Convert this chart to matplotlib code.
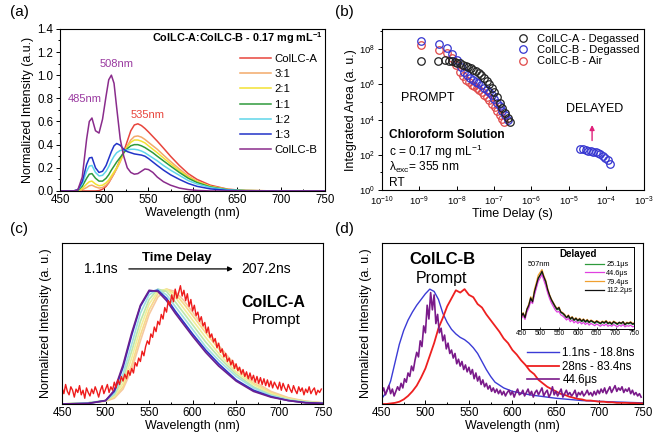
import numpy as np
import matplotlib
matplotlib.use("Agg")
import matplotlib.pyplot as plt
from matplotlib.ticker import LogLocator, NullFormatter, MultipleLocator, NullLocator

plt.rcParams["font.family"] = ["Liberation Sans", "DejaVu Sans"]
plt.rcParams["mathtext.fontset"] = "custom"
plt.rcParams["mathtext.rm"] = "Liberation Sans"
plt.rcParams["mathtext.it"] = "Liberation Sans:italic"
plt.rcParams["mathtext.bf"] = "Liberation Sans:bold"

# ---------------- panel (a): steady-state spectra of the mixtures
wl_a = [450, 465, 470, 475, 480, 483, 486, 490, 494, 498, 502, 505, 508, 511, 514, 518,
        522, 526, 530, 534, 538, 542, 546, 550, 555, 560, 567, 575, 585, 595, 605, 620,
        640, 660, 700, 750]
mix_labels = ["ColLC-A", "3:1", "2:1", "1:1", "1:2", "1:3", "ColLC-B"]
mix_colors = ["#e8453c", "#f3a96a", "#f2e233", "#2f9a3c", "#5fd6ea", "#2233c8", "#8a2c8c"]
spec_A = [0, 0, 0, 0, 0, 0, 0, 0, 0.003, 0.015, 0.04, 0.07, 0.11, 0.15, 0.20, 0.27,
          0.34, 0.43, 0.52, 0.57, 0.58, 0.565, 0.54, 0.51, 0.47, 0.43, 0.37, 0.30, 0.22,
          0.15, 0.10, 0.05, 0.015, 0.004, 0, 0]
spec_31 = [0, 0, 0, 0.01, 0.03, 0.045, 0.05, 0.035, 0.025, 0.03, 0.05, 0.075, 0.11,
           0.15, 0.19, 0.25, 0.33, 0.39, 0.44, 0.47, 0.475, 0.465, 0.445, 0.42, 0.39,
           0.36, 0.31, 0.255, 0.19, 0.13, 0.085, 0.04, 0.013, 0.004, 0, 0]
spec_21 = [0, 0, 0, 0.02, 0.06, 0.08, 0.085, 0.06, 0.045, 0.05, 0.07, 0.095, 0.13,
           0.165, 0.20, 0.26, 0.33, 0.38, 0.42, 0.44, 0.44, 0.43, 0.415, 0.39, 0.36,
           0.33, 0.285, 0.235, 0.175, 0.12, 0.08, 0.04, 0.012, 0.004, 0, 0]
spec_11 = [0, 0, 0.005, 0.04, 0.11, 0.145, 0.15, 0.11, 0.085, 0.085, 0.11, 0.14, 0.18,
           0.215, 0.25, 0.29, 0.33, 0.365, 0.39, 0.40, 0.40, 0.39, 0.375, 0.355, 0.33,
           0.30, 0.26, 0.215, 0.16, 0.11, 0.073, 0.035, 0.011, 0.003, 0, 0]
spec_12 = [0, 0, 0.01, 0.06, 0.17, 0.215, 0.22, 0.16, 0.13, 0.135, 0.17, 0.21, 0.26,
           0.30, 0.33, 0.35, 0.35, 0.355, 0.36, 0.36, 0.355, 0.345, 0.33, 0.31, 0.285,
           0.26, 0.22, 0.18, 0.135, 0.09, 0.06, 0.03, 0.009, 0.003, 0, 0]
spec_13 = [0, 0, 0.01, 0.08, 0.23, 0.285, 0.29, 0.20, 0.16, 0.17, 0.22, 0.28, 0.34,
           0.39, 0.41, 0.395, 0.36, 0.34, 0.33, 0.32, 0.315, 0.31, 0.30, 0.28, 0.25,
           0.22, 0.18, 0.14, 0.10, 0.065, 0.04, 0.018, 0.005, 0.001, 0, 0]
spec_B = [0, 0, 0.01, 0.12, 0.45, 0.60, 0.63, 0.52, 0.50, 0.62, 0.82, 0.96, 1.0, 0.93,
          0.72, 0.45, 0.30, 0.20, 0.16, 0.145, 0.15, 0.17, 0.19, 0.185, 0.16, 0.12, 0.08,
          0.05, 0.025, 0.012, 0.005, 0, 0, 0, 0, 0]
mix_specs = [spec_A, spec_31, spec_21, spec_11, spec_12, spec_13, spec_B]

# ---------------- panel (b): integrated area vs time delay
t_A_deg = [1.1e-9, 3.1e-9, 5.0e-9, 6.2e-9, 7.4e-9, 8.8e-9, 1.05e-8, 1.25e-8, 1.5e-8,
           1.75e-8, 2.05e-8, 2.4e-8, 2.8e-8, 3.3e-8, 3.9e-8, 4.6e-8, 5.4e-8, 6.3e-8,
           7.4e-8, 8.7e-8, 1.02e-7, 1.2e-7, 1.4e-7, 1.65e-7, 1.95e-7, 2.3e-7, 2.7e-7]
I_A_deg = [2.2e7, 2.2e7, 2.3e7, 2.2e7, 2.1e7, 1.9e7, 1.7e7, 1.5e7, 1.3e7, 1.1e7, 9.5e6,
           8e6, 6.5e6, 5.3e6, 4.2e6, 3.3e6, 2.4e6, 1.6e6, 1.0e6, 6e5, 3.5e5, 1.8e5, 9e4,
           4.5e4, 2.3e4, 1.2e4, 7.5e3]
t_B_deg = [1.1e-9, 3.3e-9, 5.5e-9, 7.5e-9, 1.05e-8, 1.3e-8, 1.6e-8, 1.9e-8, 2.3e-8,
           2.7e-8, 3.2e-8, 3.8e-8, 4.5e-8, 5.3e-8, 6.3e-8, 7.4e-8, 8.7e-8, 1.02e-7,
           1.2e-7, 1.4e-7, 1.65e-7, 1.95e-7, 2.3e-7,
           2.0e-5, 2.4e-5, 2.8e-5, 3.3e-5, 3.9e-5, 4.5e-5, 5.2e-5, 6.0e-5, 7.0e-5,
           8.2e-5, 9.5e-5, 1.1e-4, 1.3e-4]
I_B_deg = [2.8e8, 1.8e8, 1.1e8, 5e7, 2.5e7, 1.0e7, 5e6, 3.2e6, 2.3e6, 1.8e6, 1.4e6,
           1.1e6, 8.5e5, 6.5e5, 4.8e5, 3.4e5, 2.3e5, 1.5e5, 9e4, 5.5e4, 3.2e4, 1.8e4,
           1.0e4,
           220, 200, 185, 170, 160, 150, 140, 125, 110, 90, 70, 50, 30]
t_B_air = [1.1e-9, 3.3e-9, 5.5e-9, 7.5e-9, 9.5e-9, 1.2e-8, 1.5e-8, 1.8e-8, 2.1e-8,
           2.5e-8, 2.9e-8, 3.4e-8, 4.0e-8, 4.7e-8, 5.5e-8, 6.4e-8, 7.5e-8, 8.8e-8,
           1.03e-7, 1.2e-7, 1.4e-7, 1.65e-7, 1.9e-7]
I_B_air = [1.6e8, 9e7, 6e7, 3e7, 1.2e7, 5e6, 2.8e6, 1.8e6, 1.3e6, 9.5e5, 7.5e5, 5.8e5,
           4.5e5, 3.4e5, 2.5e5, 1.8e5, 1.2e5, 8e4, 5e4, 3e4, 1.8e4, 1.1e4, 7e3]

# ---------------- panel (c): ColLC-A prompt spectra, 1.1 ns -> 207.2 ns
wl_c = [450, 480, 500, 510, 520, 530, 540, 550, 560, 570, 580, 590, 600, 615, 630, 650,
        670, 690, 710, 730, 750]
c_colors = ["#f6c9a0", "#f7d98a", "#f1ee9a", "#bfe7a8", "#9fe0e0", "#2b35c8", "#6a1f8f"]
c_specs = [
    [0, 0.01, 0.025, 0.05, 0.13, 0.30, 0.55, 0.78, 0.93, 1.0, 0.98, 0.90, 0.80, 0.65,
     0.51, 0.33, 0.20, 0.11, 0.055, 0.025, 0.01],
    [0, 0.01, 0.025, 0.06, 0.15, 0.34, 0.60, 0.82, 0.96, 1.0, 0.96, 0.87, 0.77, 0.62,
     0.48, 0.31, 0.18, 0.10, 0.05, 0.022, 0.01],
    [0, 0.01, 0.03, 0.07, 0.18, 0.40, 0.66, 0.87, 0.98, 1.0, 0.93, 0.83, 0.73, 0.58,
     0.44, 0.28, 0.17, 0.09, 0.045, 0.02, 0.008],
    [0, 0.01, 0.03, 0.08, 0.22, 0.46, 0.72, 0.91, 1.0, 0.98, 0.89, 0.79, 0.69, 0.54,
     0.41, 0.26, 0.15, 0.08, 0.04, 0.017, 0.007],
    [0, 0.01, 0.03, 0.09, 0.26, 0.52, 0.79, 0.95, 1.0, 0.95, 0.85, 0.75, 0.65, 0.50,
     0.38, 0.24, 0.14, 0.075, 0.035, 0.015, 0.006],
    [0, 0.005, 0.03, 0.11, 0.32, 0.60, 0.85, 0.98, 0.99, 0.92, 0.81, 0.71, 0.61, 0.47,
     0.35, 0.21, 0.12, 0.065, 0.03, 0.012, 0.005],
    [0, 0.005, 0.03, 0.12, 0.34, 0.62, 0.86, 0.99, 0.98, 0.90, 0.79, 0.69, 0.59, 0.45,
     0.33, 0.20, 0.11, 0.06, 0.03, 0.01, 0.005],
]
wl_noisy = np.arange(450, 750, 2)
c_late = [0.14, 0.09, 0.17, 0.11, 0.08, 0.15, 0.12, 0.06, 0.13, 0.10,
          0.16, 0.08, 0.12, 0.05, 0.14, 0.10, 0.07, 0.13, 0.09, 0.15,
          0.11, 0.06, 0.12, 0.16, 0.09, 0.13, 0.17, 0.10, 0.15, 0.12,
          0.19, 0.14, 0.21, 0.17, 0.24, 0.20, 0.26, 0.22, 0.29, 0.25,
          0.31, 0.27, 0.36, 0.33, 0.40, 0.37, 0.46, 0.42, 0.50, 0.55,
          0.52, 0.61, 0.58, 0.67, 0.63, 0.72, 0.69, 0.78, 0.74, 0.84,
          0.80, 0.90, 0.86, 0.95, 0.89, 1.00, 0.92, 0.97, 1.03, 0.94,
          0.99, 0.90, 0.96, 0.85, 0.91, 0.81, 0.86, 0.77, 0.80, 0.72,
          0.76, 0.68, 0.71, 0.62, 0.67, 0.58, 0.61, 0.54, 0.57, 0.49,
          0.53, 0.45, 0.48, 0.41, 0.44, 0.37, 0.40, 0.34, 0.38, 0.31,
          0.35, 0.29, 0.32, 0.26, 0.30, 0.24, 0.28, 0.22, 0.27, 0.21,
          0.25, 0.19, 0.24, 0.18, 0.23, 0.17, 0.22, 0.16, 0.21, 0.15,
          0.20, 0.14, 0.19, 0.16, 0.13, 0.19, 0.12, 0.18, 0.14, 0.11,
          0.17, 0.13, 0.10, 0.16, 0.12, 0.09, 0.15, 0.11, 0.14, 0.08,
          0.13, 0.10, 0.15, 0.09, 0.12, 0.14, 0.08, 0.12, 0.10, 0.13]

# ---------------- panel (d): ColLC-B prompt / delayed spectra
wl_d_blue = [450, 455, 460, 465, 470, 475, 480, 485, 490, 495, 500, 505, 510, 515, 520,
             525, 530, 535, 540, 545, 550, 555, 560, 565, 570, 575, 580, 590, 600, 620,
             650, 680, 710, 750]
d_blue = [0.05, 0.10, 0.20, 0.36, 0.52, 0.64, 0.73, 0.80, 0.86, 0.91, 0.96, 1.0, 0.98,
          0.91, 0.79, 0.71, 0.65, 0.61, 0.58, 0.56, 0.53, 0.49, 0.44, 0.37, 0.30, 0.24,
          0.19, 0.14, 0.11, 0.08, 0.05, 0.03, 0.02, 0.01]
wl_d_red = np.arange(450, 755, 5)
d_red = [0.0, 0.0, 0.005, 0.01, 0.02, 0.04, 0.07, 0.11, 0.16, 0.23, 0.31, 0.42, 0.53,
         0.66, 0.75, 0.85, 0.92, 0.99, 0.97, 1.0, 0.95, 0.93, 0.87, 0.84, 0.78, 0.73,
         0.68, 0.63, 0.57, 0.53, 0.47, 0.43, 0.38, 0.34, 0.29, 0.26, 0.21, 0.18, 0.15,
         0.13, 0.11, 0.09, 0.08, 0.065, 0.055, 0.045, 0.04, 0.03, 0.03, 0.025, 0.02,
         0.02, 0.015, 0.015, 0.01, 0.01, 0.01, 0.008, 0.008, 0.006, 0.005]
d_delayed = [0.10, 0.14, 0.08, 0.12, 0.16, 0.09, 0.13, 0.07, 0.11, 0.15,
             0.12, 0.18, 0.14, 0.22, 0.19, 0.27, 0.24, 0.33, 0.29, 0.38,
             0.45, 0.41, 0.55, 0.50, 0.68, 0.62, 0.86, 0.74, 0.97, 0.82,
             0.95, 0.70, 0.78, 0.62, 0.66, 0.55, 0.60, 0.48, 0.53, 0.44,
             0.47, 0.40, 0.44, 0.35, 0.39, 0.33, 0.37, 0.30, 0.34, 0.28,
             0.32, 0.26, 0.30, 0.22, 0.27, 0.20, 0.24, 0.17, 0.21, 0.15,
             0.18, 0.13, 0.16, 0.11, 0.14, 0.10, 0.13, 0.09, 0.12, 0.08,
             0.11, 0.07, 0.10, 0.12, 0.08, 0.11, 0.06, 0.10, 0.13, 0.08,
             0.09, 0.12, 0.07, 0.10, 0.13, 0.08, 0.11, 0.06, 0.10, 0.12,
             0.08, 0.11, 0.14, 0.07, 0.10, 0.12, 0.06, 0.09, 0.15, 0.08,
             0.11, 0.07, 0.10, 0.13, 0.06, 0.09, 0.12, 0.08, 0.10, 0.07,
             0.09, 0.12, 0.06, 0.10, 0.08, 0.11, 0.07, 0.09, 0.12, 0.08,
             0.10, 0.07, 0.11, 0.08, 0.12, 0.09, 0.13, 0.10, 0.14, 0.09,
             0.12, 0.15, 0.10, 0.13, 0.16, 0.11, 0.14, 0.12, 0.15, 0.10,
             0.13, 0.11, 0.14, 0.09, 0.12, 0.08, 0.10, 0.07, 0.09, 0.06]

# inset: delayed spectra
wl_inset = np.arange(450, 755, 5)
inset_labels = ["25.1\u03bcs", "44.6\u03bcs", "79.4\u03bcs", "112.2\u03bcs"]
inset_colors = ["#2e9a3c", "#e040e0", "#f0a030", "#111111"]
inset_specs = [
    [0.20, 0.26, 0.22, 0.33, 0.40, 0.52, 0.50, 0.63, 0.75, 0.88, 0.96, 0.98, 0.90,
     0.80, 0.68, 0.58, 0.50, 0.44, 0.38, 0.34, 0.35, 0.29, 0.27, 0.23, 0.21, 0.22,
     0.17, 0.19, 0.15, 0.18, 0.14, 0.16, 0.13, 0.15, 0.12, 0.14, 0.11, 0.14, 0.12,
     0.10, 0.13, 0.11, 0.09, 0.12, 0.10, 0.13, 0.09, 0.11, 0.08, 0.12, 0.10, 0.08,
     0.11, 0.09, 0.12, 0.07, 0.10, 0.09, 0.11, 0.08, 0.09],
    [0.18, 0.24, 0.17, 0.30, 0.37, 0.49, 0.45, 0.60, 0.72, 0.84, 0.90, 0.96, 0.86,
     0.76, 0.64, 0.54, 0.46, 0.40, 0.34, 0.30, 0.31, 0.25, 0.23, 0.20, 0.16, 0.19,
     0.13, 0.16, 0.11, 0.14, 0.10, 0.13, 0.09, 0.12, 0.08, 0.11, 0.07, 0.10, 0.08,
     0.06, 0.09, 0.07, 0.05, 0.08, 0.06, 0.09, 0.05, 0.07, 0.05, 0.08, 0.06, 0.04,
     0.07, 0.05, 0.08, 0.04, 0.06, 0.05, 0.07, 0.04, 0.05],
    [0.21, 0.29, 0.21, 0.36, 0.44, 0.57, 0.50, 0.70, 0.82, 0.95, 1.00, 1.05, 0.94,
     0.86, 0.72, 0.61, 0.53, 0.47, 0.41, 0.36, 0.39, 0.31, 0.29, 0.26, 0.21, 0.25,
     0.19, 0.22, 0.17, 0.20, 0.16, 0.19, 0.15, 0.18, 0.14, 0.17, 0.13, 0.16, 0.14,
     0.12, 0.15, 0.13, 0.11, 0.14, 0.12, 0.15, 0.11, 0.13, 0.10, 0.14, 0.12, 0.10,
     0.12, 0.11, 0.13, 0.09, 0.12, 0.11, 0.13, 0.10, 0.11],
    [0.22, 0.28, 0.20, 0.35, 0.42, 0.55, 0.48, 0.66, 0.78, 0.90, 0.95, 1.02, 0.92,
     0.84, 0.70, 0.60, 0.52, 0.46, 0.40, 0.35, 0.38, 0.30, 0.28, 0.25, 0.20, 0.24,
     0.18, 0.21, 0.16, 0.19, 0.15, 0.18, 0.14, 0.17, 0.13, 0.16, 0.12, 0.15, 0.13,
     0.11, 0.14, 0.12, 0.10, 0.13, 0.11, 0.14, 0.10, 0.12, 0.09, 0.13, 0.11, 0.09,
     0.12, 0.10, 0.13, 0.08, 0.11, 0.10, 0.12, 0.09, 0.10],
]

FS_TICK = 8.3
FS_LAB = 9


def style_axis(ax, tick_size=FS_TICK):
    for s in ax.spines.values():
        s.set_linewidth(0.8)
    ax.tick_params(axis="both", which="both", labelsize=tick_size, width=0.7, pad=2)
    ax.tick_params(axis="x", which="major", direction="in", length=3)
    ax.tick_params(axis="x", which="minor", direction="in", length=1.8)
    ax.tick_params(axis="y", which="major", direction="out", length=3)
    ax.tick_params(axis="y", which="minor", direction="out", length=1.8)


fig = plt.figure(figsize=(6.54, 4.37), dpi=100)

# ----- (a)
ax_a = fig.add_axes([0.092, 0.563, 0.405, 0.371])
for lab, col, spec in zip(mix_labels, mix_colors, mix_specs):
    ax_a.plot(wl_a, spec, color=col, lw=1.1, label=lab)
ax_a.set_xlim(450, 750)
ax_a.set_ylim(0, 1.4)
ax_a.xaxis.set_major_locator(MultipleLocator(50))
ax_a.xaxis.set_minor_locator(MultipleLocator(25))
ax_a.yaxis.set_major_locator(MultipleLocator(0.2))
ax_a.yaxis.set_minor_locator(MultipleLocator(0.1))
ax_a.yaxis.set_major_formatter(matplotlib.ticker.FormatStrFormatter("%.1f"))
style_axis(ax_a)
ax_a.set_xlabel("Wavelength (nm)", fontsize=FS_LAB, labelpad=1)
ax_a.set_ylabel("Normalized Intensity (a.u.)", fontsize=FS_LAB, labelpad=2)
ax_a.text(0.99, 0.945, "ColLC-A:ColLC-B - 0.17 mg mL$^{\\mathbf{-1}}$", transform=ax_a.transAxes,
          ha="right", va="center", fontsize=7.8, fontweight="bold")
ax_a.legend(loc="upper right", bbox_to_anchor=(1.0, 0.895), fontsize=8.2, frameon=False,
            handlelength=2.7, labelspacing=0.46, handletextpad=0.3, borderpad=0.2)
ax_a.text(514, 1.10, "508nm", color="#9a3aa0", fontsize=8, ha="center", va="center")
ax_a.text(478, 0.79, "485nm", color="#9a3aa0", fontsize=8, ha="center", va="center")
ax_a.text(549, 0.66, "535nm", color="#e8453c", fontsize=8, ha="center", va="center")

# ----- (b)
ax_b = fig.add_axes([0.584, 0.565, 0.400, 0.368])
ax_b.set_xscale("log")
ax_b.set_yscale("log")
mk = dict(ls="none", marker="o", ms=5.4, mfc="none", mew=0.9)
hr, = ax_b.plot(t_B_air, I_B_air, color="#e04848", **mk)
hb, = ax_b.plot(t_B_deg, I_B_deg, color="#3535d0", **mk)
hk, = ax_b.plot(t_A_deg, I_A_deg, color="#222222", **mk)
ax_b.set_xlim(1e-10, 1e-3)
ax_b.set_ylim(1, 1.3e9)
ax_b.xaxis.set_major_locator(LogLocator(base=10, numticks=20))
ax_b.xaxis.set_minor_locator(NullLocator())
ax_b.yaxis.set_major_locator(matplotlib.ticker.FixedLocator([1, 1e2, 1e4, 1e6, 1e8]))
ax_b.yaxis.set_minor_locator(matplotlib.ticker.FixedLocator([10, 1e3, 1e5, 1e7, 1e9]))
ax_b.yaxis.set_minor_formatter(NullFormatter())
style_axis(ax_b, tick_size=6.8)
ax_b.tick_params(axis="x", pad=3)
ax_b.set_xlabel("Time Delay (s)", fontsize=FS_LAB, labelpad=0)
ax_b.set_ylabel("Integrated Area (a. u.)", fontsize=FS_LAB, labelpad=1)
ax_b.legend([hk, hb, hr], ["ColLC-A - Degassed", "ColLC-B - Degassed", "ColLC-B - Air"],
            loc="upper right", fontsize=8, frameon=False, handletextpad=0.2,
            labelspacing=0.12, borderpad=0.15, borderaxespad=0.25)
ax_b.text(1.7e-9, 1.7e5, "PROMPT", fontsize=9, ha="center", va="center")
ax_b.text(4.8e-5, 4e4, "DELAYED", fontsize=9, ha="center", va="center")
ax_b.annotate("", xy=(4.2e-5, 7e3), xytext=(4.2e-5, 4.5e2),
              arrowprops=dict(arrowstyle="-|>", color="#e0207a", lw=1.0,
                              mutation_scale=7))
ax_b.text(0.027, 0.34, "Chloroform Solution", transform=ax_b.transAxes, fontsize=8.6,
          fontweight="bold", va="center")
ax_b.text(0.027, 0.24, "c = 0.17 mg mL$^{-1}$", transform=ax_b.transAxes, fontsize=8.6,
          va="center")
ax_b.text(0.027, 0.14, "\u03bb$_{\\mathrm{exc}}$= 355 nm", transform=ax_b.transAxes,
          fontsize=8.6, va="center")
ax_b.text(0.027, 0.045, "RT", transform=ax_b.transAxes, fontsize=8.6, va="center")

# ----- (c)
ax_c = fig.add_axes([0.095, 0.0755, 0.399, 0.368])
for col, spec in zip(c_colors, c_specs):
    ax_c.plot(wl_c, spec, color=col, lw=1.2)
ax_c.plot(wl_noisy, c_late, color="#ee1c1c", lw=1.0)
ax_c.set_xlim(450, 750)
ax_c.set_ylim(0, 1.4)
ax_c.xaxis.set_major_locator(MultipleLocator(50))
ax_c.xaxis.set_minor_locator(MultipleLocator(25))
ax_c.yaxis.set_major_locator(NullLocator())
style_axis(ax_c)
ax_c.set_xlabel("Wavelength (nm)", fontsize=FS_LAB, labelpad=1)
ax_c.set_ylabel("Normalized Intensity (a. u.)", fontsize=FS_LAB, labelpad=7)
ax_c.text(0.44, 0.91, "Time Delay", transform=ax_c.transAxes, fontsize=9.5,
          fontweight="bold", ha="center", va="center")
ax_c.annotate("", xy=(0.665, 0.84), xytext=(0.245, 0.84), xycoords="axes fraction",
              arrowprops=dict(arrowstyle="-|>", color="black", lw=0.9, mutation_scale=7))
ax_c.text(0.15, 0.84, "1.1ns", transform=ax_c.transAxes, fontsize=10, ha="center",
          va="center")
ax_c.text(0.78, 0.84, "207.2ns", transform=ax_c.transAxes, fontsize=10, ha="center",
          va="center")
ax_c.text(0.81, 0.63, "ColLC-A", transform=ax_c.transAxes, fontsize=11.5,
          fontweight="bold", ha="center", va="center")
ax_c.text(0.82, 0.52, "Prompt", transform=ax_c.transAxes, fontsize=11, ha="center",
          va="center")

# ----- (d)
ax_d = fig.add_axes([0.584, 0.0755, 0.399, 0.368])
ax_d.plot(wl_d_blue, d_blue, color="#3b3bd6", lw=1.0, label="1.1ns - 18.8ns")
ax_d.plot(wl_d_red, d_red, color="#ee2020", lw=1.3, label="28ns - 83.4ns")
ax_d.plot(wl_noisy, d_delayed, color="#7a1a8a", lw=1.2, label="44.6\u03bcs")
ax_d.set_xlim(450, 750)
ax_d.set_ylim(0, 1.4)
ax_d.xaxis.set_major_locator(MultipleLocator(50))
ax_d.xaxis.set_minor_locator(MultipleLocator(25))
ax_d.yaxis.set_major_locator(NullLocator())
style_axis(ax_d)
ax_d.set_xlabel("Wavelength (nm)", fontsize=FS_LAB, labelpad=1)
ax_d.set_ylabel("Normalized Intensity (a. u.)", fontsize=FS_LAB, labelpad=7)
ax_d.text(0.23, 0.90, "ColLC-B", transform=ax_d.transAxes, fontsize=12,
          fontweight="bold", ha="center", va="center")
ax_d.text(0.23, 0.78, "Prompt", transform=ax_d.transAxes, fontsize=11.5, ha="center",
          va="center")
ax_d.legend(loc="lower right", bbox_to_anchor=(1.0, 0.06), fontsize=8.3, frameon=False,
            handlelength=2.8, labelspacing=0.15, handletextpad=0.3, borderpad=0.2)

# inset
ax_in = fig.add_axes([0.797, 0.247, 0.173, 0.188])
for lab, col, spec in zip(inset_labels, inset_colors, inset_specs):
    ax_in.plot(wl_inset, spec, color=col, lw=0.9, label=lab)
ax_in.set_xlim(450, 750)
ax_in.set_ylim(0, 1.45)
ax_in.xaxis.set_major_locator(MultipleLocator(50))
ax_in.yaxis.set_major_locator(NullLocator())
for s in ax_in.spines.values():
    s.set_linewidth(0.7)
ax_in.tick_params(axis="x", labelsize=4.8, length=1.5, width=0.5, direction="in", pad=1)
ax_in.text(0.5, 0.91, "Delayed", transform=ax_in.transAxes, fontsize=7,
           fontweight="bold", ha="center", va="center")
ax_in.text(0.16, 0.78, "507nm", transform=ax_in.transAxes, fontsize=5.3, ha="center",
           va="center")
ax_in.legend(loc="upper right", bbox_to_anchor=(1.02, 0.88), fontsize=5.3, frameon=False,
             handlelength=2.6, labelspacing=0.2, handletextpad=0.3, borderpad=0.1)

# panel labels
for lbl, x, y in [("(a)", 0.015, 0.972), ("(b)", 0.512, 0.972), ("(c)", 0.015, 0.476),
                  ("(d)", 0.512, 0.476)]:
    fig.text(x, y, lbl, fontsize=11, ha="left", va="center")

fig.savefig("out.png", dpi=100)
